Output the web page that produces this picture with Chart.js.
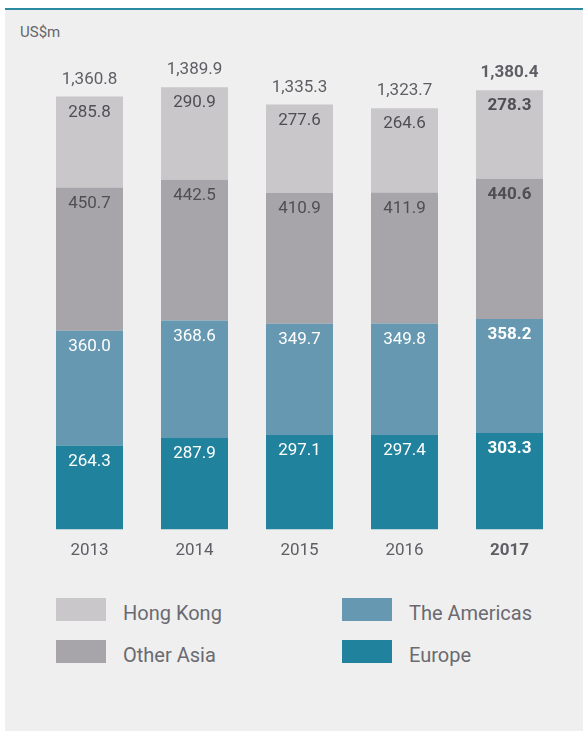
<!DOCTYPE html>
<html lang="en">
<head>
    <meta charset="UTF-8">
    <title>Revenue by region</title>
    <style>
        body { margin: 0; background: #ffffff; font-family: Roboto, sans-serif; }
        #painel {
            position: absolute; left: 5px; top: 8px; width: 578px; height: 723px;
            background: #efefef; border-top: 2px solid #2a8aa0; box-sizing: border-box;
        }
        #unidade { position: absolute; left: 15px; top: 13px; font-size: 15px; color: #666569; }
        #grafico { position: absolute; left: -5px; top: -10px; }
        #legenda { position: absolute; left: 0; top: 0; }
        .item { position: absolute; display: flex; align-items: flex-start; white-space: nowrap; font-size: 20px; line-height: 24px; color: #6a6a70; }
        .item span.cor { display: inline-block; width: 50px; height: 23px; margin-right: 17px; flex: none; }
        .item span.txt { padding-top: 3px; }
    </style>
</head>
<body>
    <div id="painel">
        <div id="unidade">US$m</div>
        <canvas id="grafico" width="583" height="575"></canvas>
        <div id="legenda"></div>
    </div>
    <script src="https://cdn.jsdelivr.net/npm/chart.js"></script>
    <script>
        const anos = ['2013', '2014', '2015', '2016', '2017']
        const europa = [264.3, 287.9, 297.1, 297.4, 303.3]
        const americas = [360.0, 368.6, 349.7, 349.8, 358.2]
        const outraAsia = [450.7, 442.5, 410.9, 411.9, 440.6]
        const hongKong = [285.8, 290.9, 277.6, 264.6, 278.3]
        const totais = [1360.8, 1389.9, 1335.3, 1323.7, 1380.4]

        const corTexto = '#5e5e64'
        const fmt = v => v.toLocaleString('en-US', { minimumFractionDigits: 1, maximumFractionDigits: 1 })

        const rotulos = {
            id: 'rotulos',
            afterDatasetsDraw(chart) {
                const c = chart.ctx
                c.save()
                c.textAlign = 'center'
                c.textBaseline = 'middle'
                chart.data.datasets.forEach((ds, i) => {
                    const meta = chart.getDatasetMeta(i)
                    meta.data.forEach((bar, j) => {
                        const negrito = j === anos.length - 1
                        c.font = (negrito ? 'bold ' : '') + '17px Roboto, sans-serif'
                        c.fillStyle = ds.corRotulo
                        c.fillText(fmt(ds.data[j]), bar.x, bar.y + 16)
                        if (i === chart.data.datasets.length - 1) {
                            c.fillStyle = corTexto
                            c.fillText(fmt(totais[j]), bar.x, bar.y - 17)
                        }
                    })
                })
                c.restore()
            }
        }

        const grafico = new Chart(document.getElementById('grafico'), {
            type: 'bar',
            data: {
                labels: anos,
                datasets: [
                    { label: 'Europe', data: europa, backgroundColor: '#20829c', corRotulo: '#ffffff' },
                    { label: 'The Americas', data: americas, backgroundColor: '#6699b1', corRotulo: '#ffffff' },
                    { label: 'Other Asia', data: outraAsia, backgroundColor: '#a7a5a9', corRotulo: '#4e4e54' },
                    { label: 'Hong Kong', data: hongKong, backgroundColor: '#c9c7ca', corRotulo: '#4e4e54' }
                ]
            },
            options: {
                responsive: false,
                animation: false,
                layout: { padding: { left: 37, right: 21, top: 40, bottom: 11 } },
                datasets: { bar: { categoryPercentage: 1, barPercentage: 0.638 } },
                plugins: { legend: { display: false }, tooltip: { enabled: false } },
                scales: {
                    x: {
                        stacked: true,
                        grid: { display: false },
                        border: { display: false },
                        ticks: {
                            padding: 3,
                            color: corTexto,
                            font: ctx => ({ size: 17, family: 'Roboto, sans-serif', weight: ctx.index === 4 ? 'bold' : 'normal' })
                        }
                    },
                    y: { stacked: true, display: false, min: 0, max: 1538 }
                }
            },
            plugins: [rotulos]
        })

        // legenda em duas colunas
        const posicoes = { 'Hong Kong': [51, 588], 'Other Asia': [51, 630], 'The Americas': [337, 588], 'Europe': [337, 630] }
        const legenda = document.getElementById('legenda')
        grafico.data.datasets.forEach(ds => {
            const p = posicoes[ds.label]
            const item = document.createElement('div')
            item.className = 'item'
            item.style.left = p[0] + 'px'
            item.style.top = p[1] + 'px'
            item.innerHTML = `<span class="cor" style="background:${ds.backgroundColor}"></span><span class="txt">${ds.label}</span>`
            legenda.appendChild(item)
        })
    </script>
</body>
</html>
